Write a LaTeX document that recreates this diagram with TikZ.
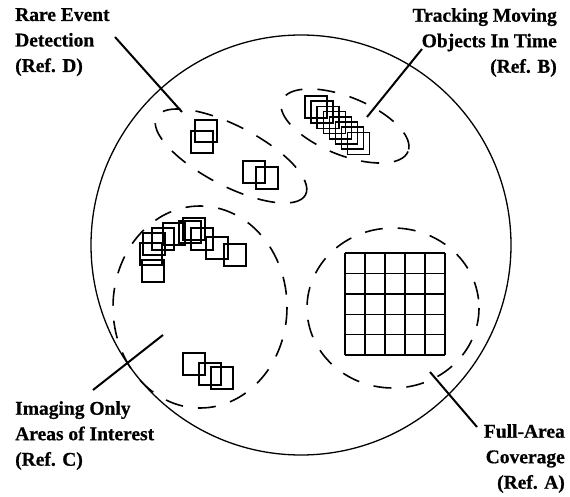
\documentclass[tikz,border=0pt]{standalone}
\usepackage{fontspec}
\setmainfont{Liberation Serif}[BoldFeatures={FakeBold=0.6}]
\begin{document}
\begin{tikzpicture}[x=1pt,y=-1pt,
  lbl/.style={font=\fontsize{19.5}{25.5}\selectfont\bfseries, inner sep=0pt},
  leader/.style={line width=2pt},
  zone/.style={line width=1.6pt, dash pattern=on 18pt off 15pt},
  frame/.style={line width=1.3pt},
  sq/.style={line width=1.5pt},
  gridl/.style={line width=1.4pt}]
\useasboundingbox (0,0) rectangle (570,497);
% field of view
\draw[frame] (301,245) circle[radius=210];
% dashed zones
\draw[zone, rotate around={-27.5:(231,156)}] (231,156) ellipse[x radius=84, y radius=30];
\draw[zone, rotate around={-22:(345,126)}] (345,126) ellipse[x radius=68, y radius=29];
\draw[zone] (200,307) ellipse[x radius=87, y radius=101];
\draw[zone] (393,308) ellipse[x radius=86, y radius=80];
% full-area grid
\foreach \i in {0,...,5} {
  \draw[gridl] (345+20*\i,253) -- (345+20*\i,355);
  \draw[gridl] (345,253+20.4*\i) -- (445,253+20.4*\i);
}
% squares
\newcommand\sqbox[2]{\draw[sq] (#1,#2) rectangle ++(22,22);}
% rare events
\sqbox{195}{120}\sqbox{191}{131}
\sqbox{243}{161}\sqbox{256}{167}
% tracking
\foreach \k in {0,...,7} { \draw[sq] (305+6.1*\k,96+5.2*\k) rectangle ++(22,22); }
% areas of interest
\sqbox{142}{260}\sqbox{140}{243}\sqbox{143}{233}\sqbox{152}{228}
\sqbox{163}{223}\sqbox{179}{221}\sqbox{183}{218}\sqbox{191}{228}
\sqbox{206}{237}\sqbox{224}{244}
\sqbox{183}{353}\sqbox{199}{363}\sqbox{211}{367}
% labels
\node[lbl, anchor=north west, align=left] (labD) at (15,8) {Rare Event\\Detection\\(Ref. D)};
\node[lbl, anchor=north east, align=right] (labB) at (557,8) {Tracking Moving\\Objects In Time\\(Ref. B)};
\node[lbl, anchor=north west, align=left] (labC) at (15,401) {Imaging Only\\Areas of Interest\\(Ref. C)};
\node[lbl, anchor=north east, align=right] (labA) at (565,424) {Full-Area\\Coverage\\(Ref. A)};
% leader lines
\coordinate (dOut) at (115,37);  \coordinate (dIn) at (182,112);
\coordinate (bOut) at (422,49);  \coordinate (bIn) at (367,117);
\coordinate (cOut) at (93,390);  \coordinate (cIn) at (163,335);
\coordinate (aOut) at (477,427); \coordinate (aIn) at (430,372);
\draw[leader] (dOut) -- (dIn);
\draw[leader] (bOut) -- (bIn);
\draw[leader] (cOut) -- (cIn);
\draw[leader] (aOut) -- (aIn);
\end{tikzpicture}
\end{document}
